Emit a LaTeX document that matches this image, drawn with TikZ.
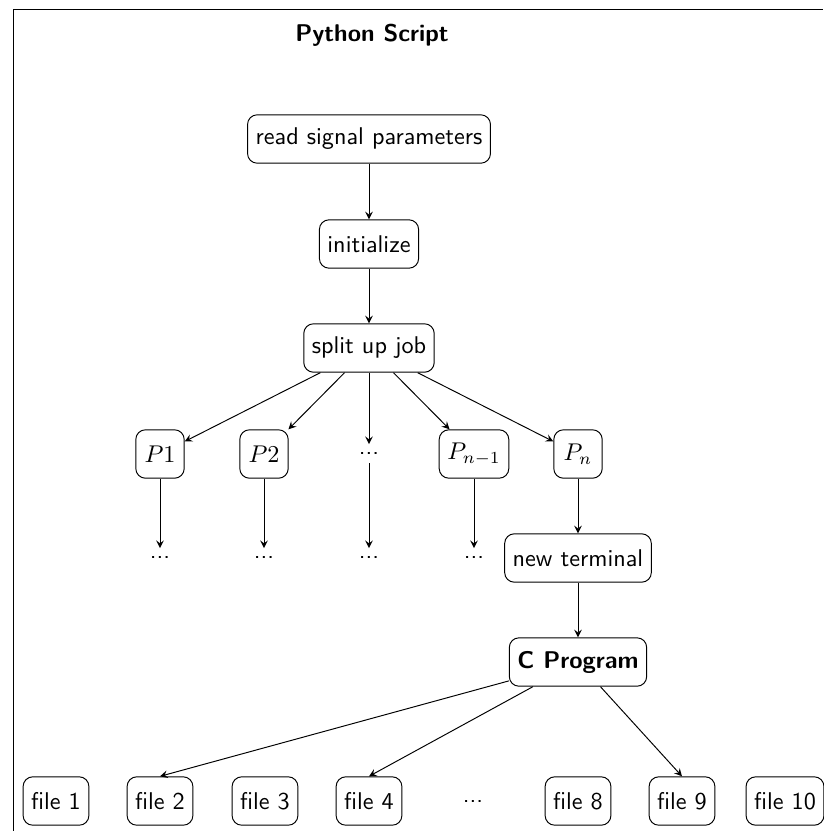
\documentclass[tikz,border=0pt]{standalone}
\usetikzlibrary{arrows.meta}
\begin{document}
\begin{tikzpicture}[x=0.4132pt,y=-0.4132pt,font=\sffamily,
  box/.style={draw,rounded corners,minimum height=2em,minimum width=2em},
  plain/.style={},
  conn/.style={-stealth}]
\useasboundingbox (0,0) rectangle (823,831);
\coordinate (fa) at (13,831);
\coordinate (fb) at (13,9);
\coordinate (fc) at (823,9);
\draw (fa) -- (fb) -- (fc);
\node[font=\sffamily\bfseries] (title) at (372,35) {Python Script};
\node[box] (read) at (369,139) {read signal parameters};
\node[box] (init) at (369,244) {initialize};
\node[box] (split) at (369,348) {split up job};
\node[box] (p1) at (160,454) {$P1$};
\node[box] (p2) at (264,454) {$P2$};
\node[plain] (pd) at (369,453.7) {...};
\node[box] (pn1) at (474,454) {$P_{n-1}$};
\node[box] (pn) at (578,454) {$P_n$};
\node[plain] (d1) at (160,557.7) {...};
\node[plain] (d2) at (264,557.7) {...};
\node[plain] (d3) at (369,557.7) {...};
\node[plain] (d4) at (474,557.7) {...};
\node[box] (term) at (578,558) {new terminal};
\node[box,font=\sffamily\bfseries] (cprog) at (578,662) {C Program};
\node[box] (f1) at (56,801) {file 1};
\node[box] (f2) at (160,801) {file 2};
\node[box] (f3) at (265,801) {file 3};
\node[box] (f4) at (369,801) {file 4};
\node[plain] (fd) at (473,801) {...};
\node[box] (f8) at (578,801) {file 8};
\node[box] (f9) at (682,801) {file 9};
\node[box] (f10) at (785,801) {file 10};
\draw[conn] (read) -- (init);
\draw[conn] (init) -- (split);
\draw[conn] (split) -- (p1);
\draw[conn] (split) -- (p2);
\draw[conn] (split) -- (pd);
\draw[conn] (split) -- (pn1);
\draw[conn] (split) -- (pn);
\draw[conn] (p1) -- (d1);
\draw[conn] (p2) -- (d2);
\draw[conn] (pd) -- (d3);
\draw[conn] (pn1) -- (d4);
\draw[conn] (pn) -- (term);
\draw[conn] (term) -- (cprog);
\draw[conn] (cprog) -- (f2.north);
\draw[conn] (cprog) -- (f4.north);
\draw[conn] (cprog) -- (f9.north);
\end{tikzpicture}
\end{document}
